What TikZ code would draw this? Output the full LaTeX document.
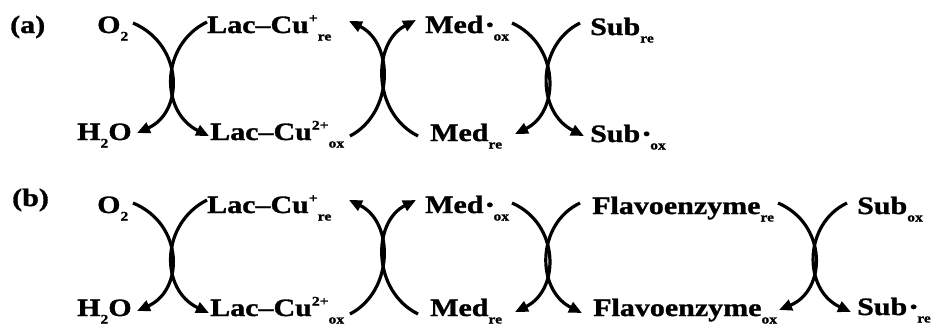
\documentclass[tikz,border=0pt]{standalone}
\usepackage{fontspec}
\setmainfont{Liberation Serif}[FakeStretch=1.2, BoldFeatures={FakeBold=1.2}]
\usetikzlibrary{arrows.meta}
\newcommand{\lo}[1]{\raisebox{-0.3em}{\fontsize{13}{13}\selectfont #1}}
\newcommand{\hi}[1]{\raisebox{0.42em}{\fontsize{13}{13}\selectfont #1}}
\newcommand{\rad}{\raisebox{0.1em}{\fontsize{17}{17}\selectfont\,•}}
\tikzset{
  chem/.style={anchor=base west, inner sep=0pt, font=\fontsize{25}{25}\selectfont\bfseries},
  curve/.style={line width=3.2pt, -{Triangle[length=13pt,width=11pt]}}
}
\begin{document}
\begin{tikzpicture}[x=1pt,y=-1pt]
\useasboundingbox[fill=white] (0,0) rectangle (936,327);
% ---------- row (a) ----------
\node[chem] (la) at (10,33) {(a)};
\node[chem] (o2a) at (97,33) {O\lo{2}};
\node[chem] (lrea) at (207,33) {Lac–Cu\hi{+}\lo{re}};
\node[chem] (h2oa) at (77,140) {H\lo{2}O};
\node[chem] (loxa) at (210,140) {Lac–Cu\hi{2+}\lo{ox}};
\node[chem] (moxa) at (425,33) {Med\rad\lo{ox}};
\node[chem] (mrea) at (430,141) {Med\lo{re}};
\node[chem] (srea) at (590,35) {Sub\lo{re}};
\node[chem] (soxa) at (590,142) {Sub\rad\lo{ox}};
% cross 1
\coordinate (a1ls) at (133,23); \coordinate (a1le) at (137,133);
\coordinate (a1rs) at (207,22); \coordinate (a1re) at (209,136);
\draw[curve] (a1ls) .. controls (184,45) and (184,112) .. (a1le);
\draw[curve] (a1rs) .. controls (160,45) and (160,112) .. (a1re);
% cross 2
\coordinate (a2ls) at (350,136); \coordinate (a2le) at (349,21);
\coordinate (a2rs) at (418,136); \coordinate (a2re) at (416,20);
\draw[curve] (a2ls) .. controls (394,113) and (394,43) .. (a2le);
\draw[curve] (a2rs) .. controls (372,113) and (372,43) .. (a2re);
% cross 3
\coordinate (a3ls) at (512,23); \coordinate (a3le) at (515,134);
\coordinate (a3rs) at (580,23); \coordinate (a3re) at (584,136);
\draw[curve] (a3ls) .. controls (560,45) and (560,112) .. (a3le);
\draw[curve] (a3rs) .. controls (536,45) and (536,112) .. (a3re);
% ---------- row (b) ----------
\node[chem] (lb) at (12,206) {(b)};
\node[chem] (o2b) at (97,213) {O\lo{2}};
\node[chem] (lreb) at (207,213) {Lac–Cu\hi{+}\lo{re}};
\node[chem] (h2ob) at (77,316) {H\lo{2}O};
\node[chem] (loxb) at (210,316) {Lac–Cu\hi{2+}\lo{ox}};
\node[chem] (moxb) at (425,213) {Med\rad\lo{ox}};
\node[chem] (mreb) at (430,316) {Med\lo{re}};
\node[chem] (freb) at (592,214) {Flavoenzyme\lo{re}};
\node[chem] (foxb) at (593,316) {Flavoenzyme\lo{ox}};
\node[chem] (soxb) at (857,214) {Sub\lo{ox}};
\node[chem] (sreb) at (857,315) {Sub\rad\lo{re}};
% cross 1
\coordinate (b1ls) at (133,203); \coordinate (b1le) at (137,311);
\coordinate (b1rs) at (207,200); \coordinate (b1re) at (209,313);
\draw[curve] (b1ls) .. controls (184,224) and (184,290) .. (b1le);
\draw[curve] (b1rs) .. controls (160,224) and (160,290) .. (b1re);
% cross 2
\coordinate (b2ls) at (350,314); \coordinate (b2le) at (349,200);
\coordinate (b2rs) at (418,314); \coordinate (b2re) at (416,200);
\draw[curve] (b2ls) .. controls (394,291) and (394,222) .. (b2le);
\draw[curve] (b2rs) .. controls (372,291) and (372,222) .. (b2re);
% cross 3
\coordinate (b3ls) at (512,203); \coordinate (b3le) at (515,312);
\coordinate (b3rs) at (580,203); \coordinate (b3re) at (582,313);
\draw[curve] (b3ls) .. controls (560,224) and (560,290) .. (b3le);
\draw[curve] (b3rs) .. controls (536,224) and (536,290) .. (b3re);
% cross 4
\coordinate (b4ls) at (778,203); \coordinate (b4le) at (779,310);
\coordinate (b4rs) at (847,203); \coordinate (b4re) at (851,312);
\draw[curve] (b4ls) .. controls (827,224) and (827,290) .. (b4le);
\draw[curve] (b4rs) .. controls (803,224) and (803,290) .. (b4re);
\end{tikzpicture}
\end{document}
